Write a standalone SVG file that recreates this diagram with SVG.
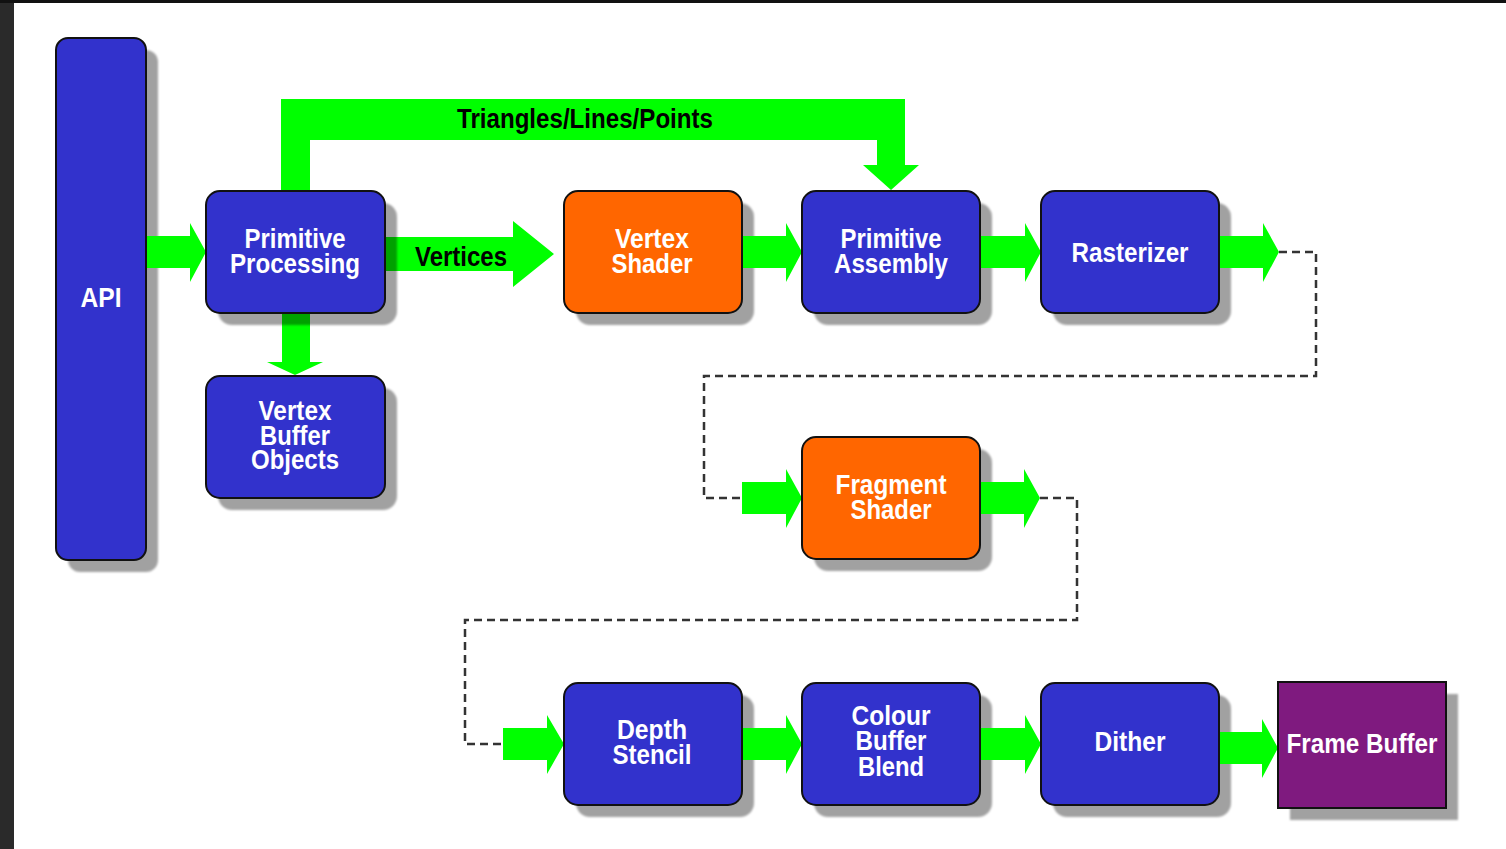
<svg xmlns="http://www.w3.org/2000/svg" width="1506" height="849" viewBox="0 0 1506 849">
<defs>
<style>
.sh{fill:#000;fill-opacity:0.37}
.blue{fill:#3232cc;stroke:#111;stroke-width:2}
.orange{fill:#ff6600;stroke:#111;stroke-width:2}
.purple{fill:#7f1a7f;stroke:#111;stroke-width:2}
.gr{fill:#00ff00}
.dash{fill:none;stroke:#333;stroke-width:2.5;stroke-dasharray:8 5}
.t{font-family:"Liberation Sans",Arial,sans-serif;font-weight:bold;font-size:28px;fill:#fff;text-anchor:middle}
.tb{font-family:"Liberation Sans",Arial,sans-serif;font-weight:bold;font-size:28px;fill:#000;text-anchor:middle}
</style>
<filter id="blur" x="-10%" y="-10%" width="120%" height="120%"><feGaussianBlur stdDeviation="0.8"/></filter>
</defs>
<rect x="0" y="0" width="1506" height="849" fill="#fff"/>
<rect x="0" y="0" width="14" height="849" fill="#2a2a2a"/>
<rect x="0" y="0" width="1506" height="3" fill="#111"/>

<g id="shadows-under" filter="url(#blur)">
<rect class="sh" x="68" y="50" width="90" height="522" rx="12"/>
<rect class="sh" x="218" y="388" width="179" height="122" rx="14"/>
<rect class="sh" x="576" y="203" width="178" height="122" rx="14"/>
<rect class="sh" x="814" y="203" width="178" height="122" rx="14"/>
<rect class="sh" x="1053" y="203" width="178" height="122" rx="14"/>
<rect class="sh" x="814" y="449" width="178" height="122" rx="14"/>
<rect class="sh" x="576" y="695" width="178" height="122" rx="14"/>
<rect class="sh" x="814" y="695" width="178" height="122" rx="14"/>
<rect class="sh" x="1053" y="695" width="178" height="122" rx="14"/>
<rect class="sh" x="1290" y="694" width="168" height="126"/>
</g>

<g id="connectors">
<path class="dash" d="M1279 252 H1316 V376 H704 V498 H742"/>
<path class="dash" d="M1040 498 H1077 V620 H465 V744 H503"/>
<path class="gr" d="M281 191 V99 H905 V165 H919 L891 190 L863 165 H877 V140 H310 V191 Z"/>
<path class="gr" d="M282 313 V362 H267 L295 375 L323 362 H310 V313 Z"/>
<path class="gr" d="M146 236 H190 V223 L206 252 L190 282 V268 H146 Z"/>
<path class="gr" d="M385 237 H513 V221 L554 254 L513 287 V271 H385 Z"/>
<path class="gr" d="M742 236 H786 V223 L802 252 L786 282 V268 H742 Z"/>
<path class="gr" d="M980 236 H1025 V223 L1041 252 L1025 282 V268 H980 Z"/>
<path class="gr" d="M1219 236 H1263 V223 L1279 252 L1263 282 V268 H1219 Z"/>
<path class="gr" d="M742 482 H786 V469 L802 498 L786 528 V514 H742 Z"/>
<path class="gr" d="M980 482 H1024 V469 L1040 498 L1024 528 V514 H980 Z"/>
<path class="gr" d="M503 728 H547 V715 L564 744 L547 774 V760 H503 Z"/>
<path class="gr" d="M742 728 H786 V715 L802 744 L786 774 V760 H742 Z"/>
<path class="gr" d="M980 728 H1025 V715 L1041 744 L1025 774 V760 H980 Z"/>
<path class="gr" d="M1219 732 H1262 V719 L1278 748 L1262 778 V764 H1219 Z"/>
<text class="tb" x="585" y="128" textLength="256" lengthAdjust="spacingAndGlyphs">Triangles/Lines/Points</text>
<text class="tb" x="461" y="266" textLength="92" lengthAdjust="spacingAndGlyphs">Vertices</text>
</g>

<g id="shadow-pp" filter="url(#blur)">
<rect class="sh" x="218" y="203" width="179" height="122" rx="14"/>
</g>

<g id="api">
<rect class="blue" x="56" y="38" width="90" height="522" rx="12"/>
<text class="t" x="101" y="307" textLength="41" lengthAdjust="spacingAndGlyphs">API</text>
</g>
<g id="primitive-processing">
<rect class="blue" x="206" y="191" width="179" height="122" rx="14"/>
<text class="t" x="295" y="248" textLength="101" lengthAdjust="spacingAndGlyphs">Primitive</text>
<text class="t" x="295" y="273" textLength="130" lengthAdjust="spacingAndGlyphs">Processing</text>
</g>
<g id="vertex-buffer-objects">
<rect class="blue" x="206" y="376" width="179" height="122" rx="14"/>
<text class="t" x="295" y="420" textLength="73" lengthAdjust="spacingAndGlyphs">Vertex</text>
<text class="t" x="295" y="445" textLength="70" lengthAdjust="spacingAndGlyphs">Buffer</text>
<text class="t" x="295" y="469" textLength="88" lengthAdjust="spacingAndGlyphs">Objects</text>
</g>
<g id="vertex-shader">
<rect class="orange" x="564" y="191" width="178" height="122" rx="14"/>
<text class="t" x="652" y="248" textLength="74" lengthAdjust="spacingAndGlyphs">Vertex</text>
<text class="t" x="652" y="273" textLength="81" lengthAdjust="spacingAndGlyphs">Shader</text>
</g>
<g id="primitive-assembly">
<rect class="blue" x="802" y="191" width="178" height="122" rx="14"/>
<text class="t" x="891" y="248" textLength="101" lengthAdjust="spacingAndGlyphs">Primitive</text>
<text class="t" x="891" y="273" textLength="114" lengthAdjust="spacingAndGlyphs">Assembly</text>
</g>
<g id="rasterizer">
<rect class="blue" x="1041" y="191" width="178" height="122" rx="14"/>
<text class="t" x="1130" y="262" textLength="117" lengthAdjust="spacingAndGlyphs">Rasterizer</text>
</g>
<g id="fragment-shader">
<rect class="orange" x="802" y="437" width="178" height="122" rx="14"/>
<text class="t" x="891" y="494" textLength="111" lengthAdjust="spacingAndGlyphs">Fragment</text>
<text class="t" x="891" y="519" textLength="81" lengthAdjust="spacingAndGlyphs">Shader</text>
</g>
<g id="depth-stencil">
<rect class="blue" x="564" y="683" width="178" height="122" rx="14"/>
<text class="t" x="652" y="739" textLength="70" lengthAdjust="spacingAndGlyphs">Depth</text>
<text class="t" x="652" y="764" textLength="79" lengthAdjust="spacingAndGlyphs">Stencil</text>
</g>
<g id="colour-buffer-blend">
<rect class="blue" x="802" y="683" width="178" height="122" rx="14"/>
<text class="t" x="891" y="725" textLength="79" lengthAdjust="spacingAndGlyphs">Colour</text>
<text class="t" x="891" y="750" textLength="71" lengthAdjust="spacingAndGlyphs">Buffer</text>
<text class="t" x="891" y="776" textLength="66" lengthAdjust="spacingAndGlyphs">Blend</text>
</g>
<g id="dither">
<rect class="blue" x="1041" y="683" width="178" height="122" rx="14"/>
<text class="t" x="1130" y="751" textLength="71" lengthAdjust="spacingAndGlyphs">Dither</text>
</g>
<g id="frame-buffer">
<rect class="purple" x="1278" y="682" width="168" height="126"/>
<text class="t" x="1362" y="753" textLength="151" lengthAdjust="spacingAndGlyphs">Frame Buffer</text>
</g>
</svg>
